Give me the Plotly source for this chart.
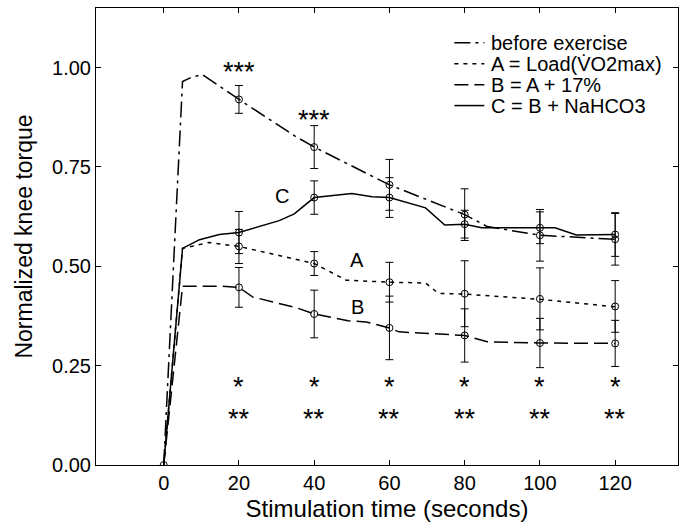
import plotly.graph_objects as go

# ---------------- data ----------------
# line traces (digitised curve, including kinks between measurement points)
before_t = [0, 5, 7.7, 10.3, 20, 35, 40, 60, 80, 86, 100, 120]
before_y = [0, 0.965, 0.977, 0.982, 0.92, 0.827, 0.80, 0.705, 0.63, 0.60, 0.578, 0.568]

a_t = [0, 5, 12, 20, 40, 48.5, 60, 69.6, 73, 80, 100, 120]
a_y = [0, 0.545, 0.56, 0.55, 0.507, 0.465, 0.46, 0.458, 0.432, 0.43, 0.417, 0.398]

b_t = [0, 5, 15.6, 20, 23.6, 35.5, 40, 49, 53.8, 60, 62.5, 67.8, 80, 86, 100, 120]
b_y = [0, 0.45, 0.45, 0.447, 0.423, 0.395, 0.38, 0.363, 0.36, 0.345, 0.335, 0.332, 0.326, 0.31, 0.307, 0.306]

c_t = [0, 5, 9.5, 14.8, 20, 30.7, 34.7, 40, 50, 55.4, 60, 69.6, 74.7, 80, 84.5, 100, 104, 109.7, 120]
c_y = [0, 0.545, 0.567, 0.58, 0.585, 0.615, 0.632, 0.673, 0.683, 0.675, 0.673, 0.647, 0.604,
       0.606, 0.597, 0.597, 0.597, 0.579, 0.58]

# measurement points with error bars
meas_t = [20, 40, 60, 80, 100, 120]
before_m = [0.92, 0.80, 0.705, 0.63, 0.578, 0.568]
before_e = [0.035, 0.054, 0.064, 0.065, 0.065, 0.065]
a_m = [0.55, 0.507, 0.46, 0.431, 0.418, 0.399]
a_e = [0.043, 0.03, 0.05, 0.083, 0.078, 0.065]
b_m = [0.447, 0.38, 0.345, 0.326, 0.307, 0.306]
b_e = [0.05, 0.06, 0.08, 0.067, 0.062, 0.058]
c_m = [0.585, 0.673, 0.673, 0.606, 0.597, 0.58]
c_e = [0.053, 0.042, 0.05, 0.035, 0.04, 0.055]

start_t = [0]
start_y = [0]

series_names = ["before exercise", "A = Load(V\u0307O2max)", "B = A + 17%", "C = B + NaHCO3"]

x_ticks = [0, 20, 40, 60, 80, 100, 120]
y_ticks = [0.0, 0.25, 0.5, 0.75, 1.0]
y_ticklabels = ["0.00", "0.25", "0.50", "0.75", "1.00"]

triple_star_t = [20, 40]
triple_star_y = [0.995, 0.873]
lower_stars_y = 0.157   # boundary between the "*" row and the "**" row

curve_labels = ["C", "A", "B"]
curve_label_t = [31.5, 51.4, 51.4]
curve_label_y = [0.677, 0.515, 0.398]

# ---------------- style ----------------
FONT = "Liberation Sans, Arial, Helvetica, sans-serif"
W, H = 686, 525
ML, MR, MT, MB = 96, 7, 7, 59
STAR_SIZE = 27

dashes = ["16px,5px,3px,5px", "4px,5px", "14px,6px", "solid"]
lines_t = [before_t, a_t, b_t, c_t]
lines_y = [before_y, a_y, b_y, c_y]
meas_y = [before_m, a_m, b_m, c_m]
meas_e = [before_e, a_e, b_e, c_e]

fig = go.Figure()

for t, y, d, name in zip(lines_t, lines_y, dashes, series_names):
    fig.add_trace(go.Scatter(x=t, y=y, mode="lines", name=name, showlegend=False,
                             line=dict(color="black", width=1.5, dash=d)))

for m, e in zip(meas_y, meas_e):
    fig.add_trace(go.Scatter(x=meas_t, y=m, mode="markers", showlegend=False,
                             marker=dict(symbol="circle-open", size=7, color="black",
                                         line=dict(width=1, color="black")),
                             error_y=dict(type="data", array=e, visible=True,
                                          color="black", thickness=1, width=4)))

fig.add_trace(go.Scatter(x=start_t, y=start_y, mode="markers", showlegend=False,
                         marker=dict(symbol="circle-open", size=7, color="black",
                                     line=dict(width=1, color="black"))))

# significance stars
star_font = dict(family=FONT, size=STAR_SIZE, color="black")
for t, y in zip(triple_star_t, triple_star_y):
    fig.add_annotation(x=t, y=y, text="***", showarrow=False, font=star_font,
                       borderpad=0, yshift=-2)
for t in meas_t:
    fig.add_annotation(x=t, y=lower_stars_y, text="*", showarrow=False, font=star_font,
                       borderpad=0, yanchor="bottom")
    fig.add_annotation(x=t, y=lower_stars_y, text="**", showarrow=False, font=star_font,
                       borderpad=0, yanchor="top")

for lab, t, y in zip(curve_labels, curve_label_t, curve_label_y):
    fig.add_annotation(x=t, y=y, text=lab, showarrow=False,
                       font=dict(family=FONT, size=20, color="black"))

# legend (drawn inside the axes, top right)
def px_to_paper(xp, yp):
    return (xp - ML) / (W - ML - MR), (H - MB - yp) / (H - MB - MT)

leg_rows_y = [42, 63, 84, 105]
for name, d, yp in zip(series_names, dashes, leg_rows_y):
    x0, y0 = px_to_paper(455, yp)
    x1, _ = px_to_paper(485, yp)
    xt, _ = px_to_paper(490, yp)
    fig.add_shape(type="line", xref="paper", yref="paper", x0=x0, x1=x1, y0=y0, y1=y0,
                  line=dict(color="black", width=1.5, dash=d))
    fig.add_annotation(xref="paper", yref="paper", x=xt, y=y0, text=name, showarrow=False,
                       xanchor="left", yanchor="middle",
                       font=dict(family=FONT, size=20, color="black"))

fig.update_layout(
    width=W, height=H,
    margin=dict(l=ML, r=MR, t=MT, b=MB),
    paper_bgcolor="white", plot_bgcolor="white",
    font=dict(family=FONT, size=20, color="black"),
    showlegend=False,
    xaxis=dict(range=[-18, 136.7], tickvals=x_ticks, ticks="inside", ticklen=5,
               tickcolor="black", showline=True, linecolor="black", linewidth=1,
               mirror="ticks", showgrid=False, zeroline=False,
               tickfont=dict(family=FONT, size=20),
               title=dict(text="Stimulation time (seconds)", font=dict(family=FONT, size=24),
                          standoff=7)),
    yaxis=dict(range=[0, 1.15], tickvals=y_ticks, ticktext=y_ticklabels, ticks="inside",
               ticklen=5, tickcolor="black", showline=True, linecolor="black", linewidth=1,
               mirror="ticks", showgrid=False, zeroline=False,
               tickfont=dict(family=FONT, size=20),
               title=dict(text="Normalized knee torque", font=dict(family=FONT, size=23),
                          standoff=13)),
)

fig.write_html("out.html", config={"displayModeBar": False},
               post_script="document.body.style.margin='0px';")
